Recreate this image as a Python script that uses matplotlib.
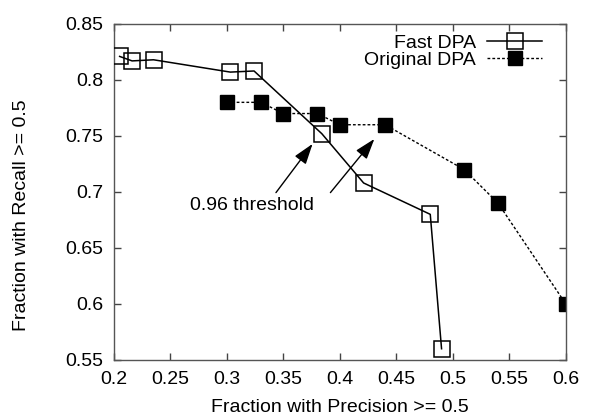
import matplotlib
matplotlib.use("Agg")
import matplotlib.pyplot as plt

plt.rcParams['font.family'] = ['Liberation Sans', 'DejaVu Sans']

# Fast DPA (open squares, solid line)
fast_precision = [0.205, 0.216, 0.235, 0.303, 0.324, 0.384, 0.421, 0.480, 0.490]
fast_recall = [0.821, 0.817, 0.818, 0.807, 0.808, 0.752, 0.708, 0.680, 0.560]

# Original DPA (filled squares, dashed line)
orig_precision = [0.30, 0.33, 0.35, 0.38, 0.40, 0.44, 0.51, 0.54, 0.60]
orig_recall = [0.78, 0.78, 0.77, 0.77, 0.76, 0.76, 0.72, 0.69, 0.60]

x_ticks = [0.2, 0.25, 0.3, 0.35, 0.4, 0.45, 0.5, 0.55, 0.6]
y_ticks = [0.55, 0.6, 0.65, 0.7, 0.75, 0.8, 0.85]

fig = plt.figure(figsize=(6, 4.2), dpi=100)
ax = fig.add_axes([0.19, 0.143, 0.753, 0.8])

ax.plot(fast_precision, fast_recall, color='black', lw=1.1, marker='s',
        markersize=11, markerfacecolor='none', markeredgecolor='black',
        markeredgewidth=1.1, label='Fast DPA', zorder=3)
ax.plot(orig_precision, orig_recall, color='black', lw=1.0,
        linestyle=(0, (2, 1.5)), marker='s', markersize=10.5,
        markerfacecolor='black', markeredgecolor='black',
        label='Original DPA', zorder=2)

# threshold annotation
arrow = dict(arrowstyle='-|>,head_length=0.9,head_width=0.3', color='black',
             lw=1, mutation_scale=14, shrinkA=0, shrinkB=0)
ax.annotate('', xy=(0.3758, 0.7429), xytext=(0.3434, 0.6994), arrowprops=arrow)
ax.annotate('', xy=(0.4305, 0.7473), xytext=(0.3916, 0.6994), arrowprops=arrow)
ax.text(0.267, 0.6875, '0.96 threshold', fontsize=14, ha='left', va='center')

ax.set_xlim(0.2, 0.6)
ax.set_ylim(0.55, 0.85)
ax.set_xticks(x_ticks)
ax.set_xticklabels([f'{v:g}' for v in x_ticks])
ax.set_yticks(y_ticks)
ax.set_yticklabels([f'{v:g}' for v in y_ticks])
ax.tick_params(direction='in', length=5, width=1, top=True, right=True,
               labelsize=14, color='#444444', pad=8)
for s in ax.spines.values():
    s.set_color('#555555')
    s.set_linewidth(1)

ax.set_xlabel('Fraction with Precision >= 0.5', fontsize=14, labelpad=8)
ax.set_ylabel('Fraction with Recall >= 0.5', fontsize=14)
ax.yaxis.set_label_coords(-0.185, 0.43)

ax.legend(loc='upper right', bbox_to_anchor=(0.947, 0.97), markerfirst=False,
          frameon=False, fontsize=14, handlelength=2.8, handletextpad=0.58,
          borderpad=0.0, borderaxespad=0.0, labelspacing=0.0)

fig.savefig('out.png', dpi=100)
